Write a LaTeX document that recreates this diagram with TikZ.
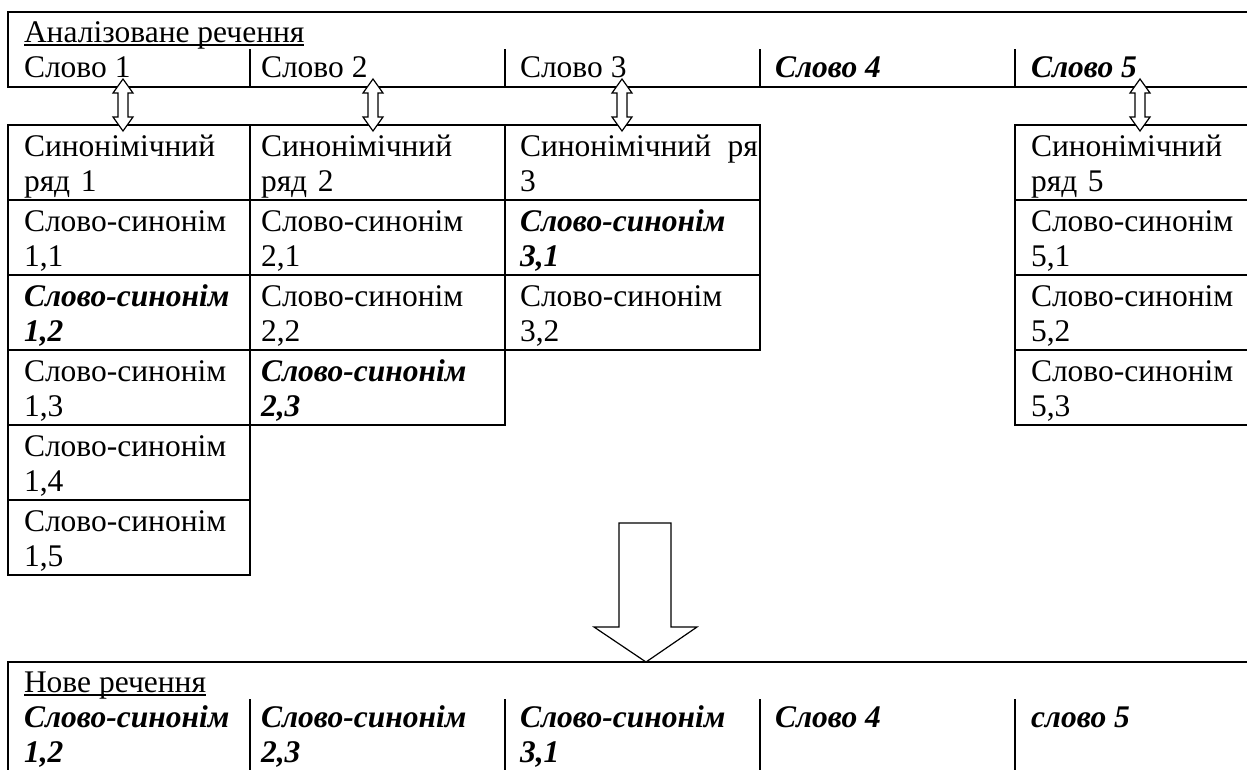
\documentclass[tikz,border=0pt]{standalone}
\usepackage{fontspec}
\setmainfont{Liberation Serif}
\newcommand\cellfont{\fontsize{31.5}{35}\selectfont}
\tikzset{
  txt/.style={inner sep=0pt, outer sep=0pt, anchor=base west, font=\cellfont},
  cell/.style={txt, text width=240pt, align=left},
  bi/.style={font=\cellfont\bfseries\itshape},
  frame/.style={line width=1.8pt},
  uline/.style={line width=1.3pt},
  hollow/.style={draw=black, fill=white, line width=1.2pt, line join=miter},
  dblarr/.pic={
    \draw[hollow] (0,0) -- (10,14) -- (5,14) -- (5,38) -- (10,38) -- (0,52)
      -- (-10,38) -- (-5,38) -- (-5,14) -- (-10,14) -- cycle;
  }
}
\begin{document}
\begin{tikzpicture}[x=1pt,y=-1pt]
\useasboundingbox (0,0) rectangle (1247,769);
\clip (0,0) rectangle (1247,769);

% ---------- analysed sentence ----------
\draw[frame] (1260,12) -- (8,12) -- (8,87) -- (1260,87);
\foreach \x in {250,505,760,1015} \draw[frame] (\x,49) -- (\x,87);
\node[txt] (title) at (24,42) {Аналізоване речення};
\draw[uline] ([yshift=-3pt]title.base west) -- ([yshift=-3pt]title.base east);
\node[txt] (w1) at (24,77) {Слово 1};
\node[txt] (w2) at (261,77) {Слово 2};
\node[txt] (w3) at (520,77) {Слово 3};
\node[txt,bi] (w4) at (775,77) {Слово 4};
\node[txt,bi] (w5) at (1031,77) {Слово 5};

% ---------- synonym columns ----------
\draw[frame] (8,125) rectangle (250,575);
\foreach \y in {200,275,350,425,500} \draw[frame] (8,\y) -- (250,\y);
\draw[frame] (250,125) rectangle (505,425);
\foreach \y in {200,275,350} \draw[frame] (250,\y) -- (505,\y);
\draw[frame] (505,125) rectangle (760,350);
\foreach \y in {200,275} \draw[frame] (505,\y) -- (760,\y);
\draw[frame] (1260,125) -- (1015,125) -- (1015,425) -- (1260,425);
\foreach \y in {200,275,350} \draw[frame] (1015,\y) -- (1260,\y);

\node[cell] (s1) at (24,156) {Синонімічний\\ряд 1};
\node[cell] (c11) at (24,231) {Слово-синонім\\1,1};
\node[cell,bi] (c12) at (24,306) {Слово-синонім\\1,2};
\node[cell] (c13) at (24,381) {Слово-синонім\\1,3};
\node[cell] (c14) at (24,456) {Слово-синонім\\1,4};
\node[cell] (c15) at (24,531) {Слово-синонім\\1,5};

\node[cell] (s2) at (261,156) {Синонімічний\\ряд 2};
\node[cell] (c21) at (261,231) {Слово-синонім\\2,1};
\node[cell] (c22) at (261,306) {Слово-синонім\\2,2};
\node[cell,bi] (c23) at (261,381) {Слово-синонім\\2,3};

\node[cell, text width=238pt] (s3) at (520,156) {Синонімічний\hfill ря\\3};
\node[cell,bi] (c31) at (520,231) {Слово-синонім\\3,1};
\node[cell] (c32) at (520,306) {Слово-синонім\\3,2};

\node[cell] (s5) at (1031,156) {Синонімічний\\ряд 5};
\node[cell] (c51) at (1031,231) {Слово-синонім\\5,1};
\node[cell] (c52) at (1031,306) {Слово-синонім\\5,2};
\node[cell] (c53) at (1031,381) {Слово-синонім\\5,3};

% ---------- double arrows word <-> synonym row ----------
\coordinate (a1) at (123,79);
\coordinate (a2) at (373,79);
\coordinate (a3) at (622,79);
\coordinate (a5) at (1140,79);
\foreach \a in {a1,a2,a3,a5} \pic at (\a) {dblarr};

% ---------- big arrow ----------
\coordinate (tip) at (646,662);
\draw[hollow] (619,523) -- (671,523) -- (671,627) -- (697,627) -- (tip)
  -- (594,627) -- (619,627) -- cycle;

% ---------- new sentence ----------
\draw[frame] (1260,662) -- (8,662) -- (8,790);
\foreach \x in {250,505,760,1015} \draw[frame] (\x,699) -- (\x,790);
\node[txt] (ntitle) at (24,692) {Нове речення};
\draw[uline] ([yshift=-3pt]ntitle.base west) -- ([yshift=-3pt]ntitle.base east);
\node[cell,bi] (n1) at (24,727) {Слово-синонім\\1,2};
\node[cell,bi] (n2) at (261,727) {Слово-синонім\\2,3};
\node[cell,bi] (n3) at (520,727) {Слово-синонім\\3,1};
\node[txt,bi] (n4) at (775,727) {Слово 4};
\node[txt,bi] (n5) at (1031,727) {слово 5};
\end{tikzpicture}
\end{document}
